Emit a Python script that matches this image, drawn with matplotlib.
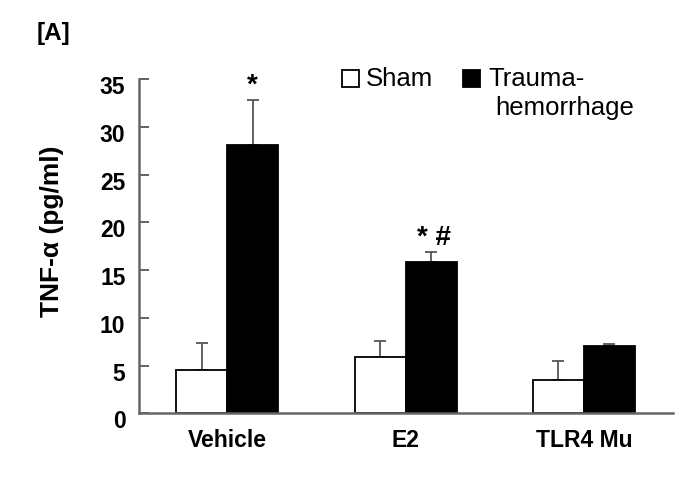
import matplotlib
matplotlib.use("Agg")
import matplotlib.pyplot as plt
from matplotlib.patches import Rectangle
from matplotlib.transforms import ScaledTranslation
import numpy as np

plt.rcParams['font.family'] = ['Liberation Sans', 'DejaVu Sans']

categories = ["Vehicle", "E2", "TLR4 Mu"]
sham = [4.55, 5.93, 3.5]
sham_err = [2.82, 1.64, 1.98]
trauma = [28.1, 15.9, 7.02]
trauma_err = [4.7, 1.0, 0.26]
trauma_marks = ["*", "* #", ""]
yticks = [0, 5, 10, 15, 20, 25, 30, 35]

W, H = 699, 491
fig = plt.figure(figsize=(W/100, H/100), dpi=100)
ax = fig.add_axes([139.3/W, (H-413.3)/H, 533.7/W, 334/H])

x = np.arange(len(categories))
w = 0.286
gray = "#555555"
ax.bar(x - w/2, sham, w, color="white", edgecolor="black", linewidth=1.3, zorder=2)
ax.bar(x + w/2, trauma, w, color="black", edgecolor="black", linewidth=1.3, zorder=2)
ax.errorbar(x - w/2, sham, yerr=[np.zeros(len(sham)), sham_err], fmt="none",
            ecolor=gray, elinewidth=1.3, capsize=4.5, capthick=1.3, zorder=1)
ax.errorbar(x + w/2, trauma, yerr=[np.zeros(len(trauma)), trauma_err], fmt="none",
            ecolor=gray, elinewidth=1.3, capsize=4.5, capthick=1.3, zorder=1)

for xi, t, e, m in zip(x, trauma, trauma_err, trauma_marks):
    if m:
        ax.text(xi + w/2 + (0.015 if len(m) > 1 else 0), t + e + 1.5, m, ha="center",
                va="center", fontsize=20, fontweight="bold")

ax.set_xlim(-0.4935, 2.50)
ax.set_ylim(0, 35)
ax.set_yticks(yticks)
ax.set_yticklabels([str(t) for t in yticks], fontsize=16.5, fontweight="bold")
ax.set_xticks(x)
ax.set_xticklabels(categories, fontsize=16.5, fontweight="bold")
ax.tick_params(axis="x", length=0, pad=11)
ax.tick_params(axis="y", direction="in", length=7, color=gray, width=1.3, pad=10)
off = ScaledTranslation(0, -6/100, fig.dpi_scale_trans)
for lab in ax.get_yticklabels():
    lab.set_transform(lab.get_transform() + off)
for s in ["top", "right"]:
    ax.spines[s].set_visible(False)
for s in ["left", "bottom"]:
    ax.spines[s].set_color("#666666")
    ax.spines[s].set_linewidth(1.8)

fig.text(52.5/W, 1 - 231.5/H, "TNF-α (pg/ml)", rotation=90, ha="center", va="center",
         fontsize=19, fontweight="bold")
fig.text(37/W, 1 - 33.5/H, "[A]", ha="left", va="center", fontsize=17.5, fontweight="bold")

# legend
fig.patches.append(Rectangle((341.7/W, 1 - 87.3/H), 17.3/W, 17.3/H,
                   transform=fig.transFigure, facecolor="white", edgecolor="black", linewidth=1.3))
fig.text(366/W, 1 - 86.5/H, "Sham", ha="left", va="baseline", fontsize=18.5)
fig.patches.append(Rectangle((462.7/W, 1 - 87.3/H), 17.3/W, 17.3/H,
                   transform=fig.transFigure, facecolor="black", edgecolor="black", linewidth=1.3))
fig.text(488/W, 1 - 86.5/H, "Trauma-", ha="left", va="baseline", fontsize=18.5)
fig.text(495/W, 1 - 115.5/H, "hemorrhage", ha="left", va="baseline", fontsize=18.5)

fig.savefig("out.png", dpi=100)
